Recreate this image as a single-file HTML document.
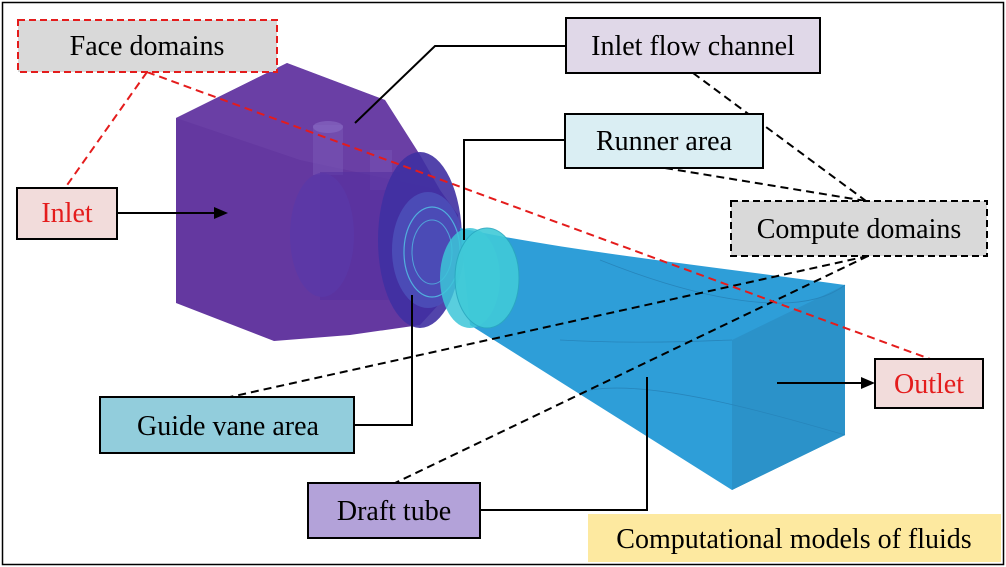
<!DOCTYPE html>
<html><head><style>
html,body{margin:0;padding:0;background:#fff;}
svg{display:block;}
</style></head><body>
<svg width="1006" height="567" viewBox="0 0 1006 567" xmlns="http://www.w3.org/2000/svg" font-family="'Liberation Serif','DejaVu Serif',serif" font-size="28">
<rect x="2.5" y="2.5" width="1001" height="562" fill="#fff" stroke="#000" stroke-width="1.5"/>
<!-- purple body -->
<polygon points="176,118 287,63 385,100 420,155 440,190 458,215 452,290 420,325 350,335 274,341 176,303" fill="#6438a0"/>
<polygon points="176,118 287,63 385,100 420,155 440,190 300,160" fill="#6e44a8" opacity="0.6"/>
<rect x="313" y="125" width="30" height="50" fill="#7a5ab8" opacity="0.5"/>
<ellipse cx="328" cy="127" rx="15" ry="6" fill="#8a6cc4" opacity="0.6"/>
<rect x="370" y="150" width="22" height="40" fill="#7a5ab8" opacity="0.4"/>
<path d="M320,172 L400,172 L400,300 L320,300 Z" fill="#5530a0" opacity="0.6"/>
<ellipse cx="322" cy="235" rx="32" ry="62" fill="#5a38a8" opacity="0.8"/>
<ellipse cx="420" cy="240" rx="42" ry="88" fill="#3f30a2" opacity="0.9"/>
<ellipse cx="428" cy="250" rx="36" ry="58" fill="#4d4fb8" opacity="0.9"/>
<ellipse cx="432" cy="252" rx="28" ry="45" fill="none" stroke="#52c8e8" stroke-width="1.2" opacity="0.8"/>
<ellipse cx="432" cy="252" rx="20" ry="32" fill="none" stroke="#52c8e8" stroke-width="1" opacity="0.7"/>
<!-- blue cone -->
<path d="M460,228 C560,250 700,265 845,285 L845,435 L732,490 L470,325 Z" fill="#2e9ed8"/>
<polygon points="732,340 845,285 845,435 732,490" fill="#2b92c9"/>
<path d="M600,260 C700,300 800,320 845,285 M560,340 C650,345 720,340 732,340 M590,390 C650,380 760,410 845,435" stroke="#2785bb" stroke-width="0.8" fill="none"/>
<ellipse cx="470" cy="278" rx="30" ry="50" fill="#3cc6d8" opacity="0.85"/>
<ellipse cx="487" cy="278" rx="32" ry="50" fill="#40cad8" opacity="0.9" stroke="#2aa8c0"/>
<!-- dashed lines -->
<g stroke="#000" stroke-width="2" stroke-dasharray="8,5" fill="none">
<line x1="693" y1="73" x2="866" y2="201"/>
<line x1="665" y1="168" x2="866" y2="201"/>
<line x1="868" y1="256" x2="230" y2="397"/>
<line x1="868" y1="256" x2="395" y2="483"/>
</g>
<g stroke="#e41c1c" stroke-width="2" stroke-dasharray="8,5" fill="none">
<line x1="147" y1="72" x2="930" y2="359"/>
<line x1="147" y1="72" x2="65" y2="188"/>
</g>
<!-- solid leaders -->
<g stroke="#000" stroke-width="2" fill="none">
<polyline points="566,46 435,46 355,123"/>
<polyline points="565,140 464,140 464,240"/>
<polyline points="354,425 412,425 412,295"/>
<polyline points="480,510 647,510 647,377"/>
<line x1="117" y1="213" x2="218" y2="213"/>
<line x1="777" y1="383" x2="865" y2="383"/>
</g>
<polygon points="228,213 214,207 214,219" fill="#000"/>
<polygon points="875,383 861,377 861,389" fill="#000"/>
<!-- boxes -->
<rect x="18" y="20" width="259" height="52" fill="#d9d9d9" stroke="#e41c1c" stroke-width="2" stroke-dasharray="7,4"/>
<text x="147" y="55" text-anchor="middle">Face domains</text>
<rect x="17" y="188" width="100" height="51" fill="#f2dcdb" stroke="#000" stroke-width="2"/>
<text x="67" y="222" text-anchor="middle" fill="#e41c1c">Inlet</text>
<rect x="566" y="18" width="254" height="55" fill="#e0d8e8" stroke="#000" stroke-width="2"/>
<text x="693" y="55" text-anchor="middle">Inlet flow channel</text>
<rect x="565" y="114" width="198" height="54" fill="#daeef3" stroke="#000" stroke-width="2"/>
<text x="664" y="150" text-anchor="middle">Runner area</text>
<rect x="731" y="201" width="256" height="55" fill="#d9d9d9" stroke="#000" stroke-width="2" stroke-dasharray="7,4"/>
<text x="859" y="238" text-anchor="middle">Compute domains</text>
<rect x="875" y="359" width="108" height="49" fill="#f2dcdb" stroke="#000" stroke-width="2"/>
<text x="929" y="393" text-anchor="middle" fill="#e41c1c">Outlet</text>
<rect x="100" y="397" width="254" height="56" fill="#92cddc" stroke="#000" stroke-width="2"/>
<text x="228" y="435" text-anchor="middle">Guide vane area</text>
<rect x="308" y="483" width="172" height="55" fill="#b3a2d9" stroke="#000" stroke-width="2"/>
<text x="394" y="520" text-anchor="middle">Draft tube</text>
<rect x="588" y="514" width="413" height="48" fill="#fde9a0"/>
<text x="794" y="548" text-anchor="middle">Computational models of fluids</text>
</svg>
</body></html>
